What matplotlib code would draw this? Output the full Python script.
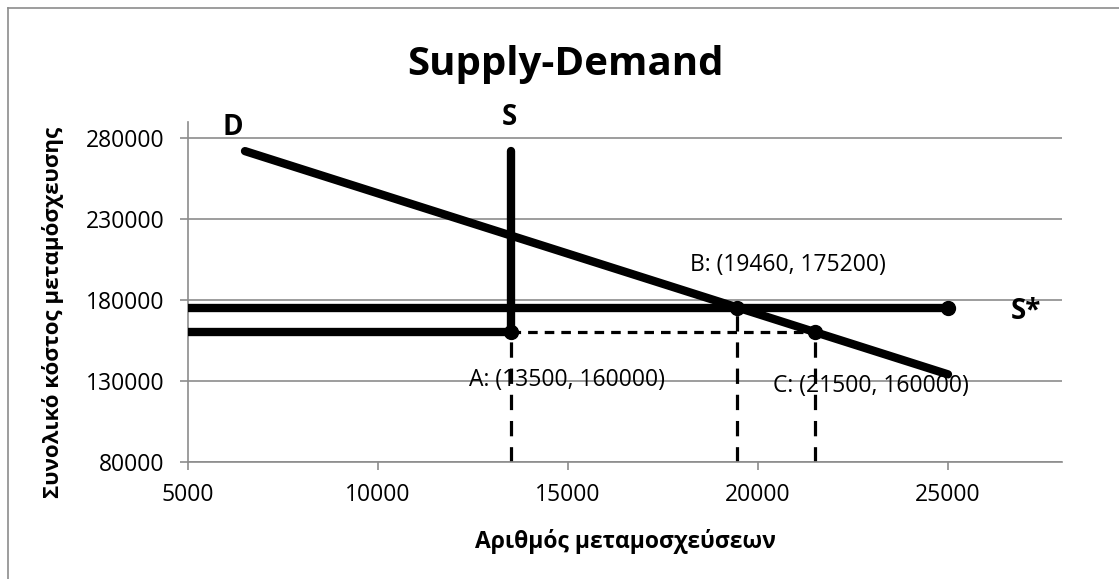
import matplotlib.pyplot as plt
from matplotlib.lines import Line2D

plt.rcParams['font.family'] = ['Open Sans', 'DejaVu Sans']

# data
d_x = [6500, 25000]
d_y = [272000, 134000]
s_x = [5000, 13500, 13500]
s_y = [160000, 160000, 272000]
s_star_x = [5000, 25000]
s_star_y = [175200, 175200]
pt_names = ['A', 'B', 'C']
pt_x = [13500, 19460, 21500]
pt_y = [160000, 175200, 160000]
x_ticks = [5000, 10000, 15000, 20000, 25000]
y_ticks = [80000, 130000, 180000, 230000, 280000]

grey = '#8c8c8c'
fs = 16.5

fig = plt.figure(figsize=(11.19, 5.79), dpi=100)
ax = fig.add_axes([188 / 1119, 1 - 461.7 / 579, (1062 - 188) / 1119, (461.7 - 122) / 579])
ax.set_xlim(5000, 28000)
ax.set_ylim(80000, 290000)

# dashed guide lines (horizontal dashes are shorter than the vertical ones)
ax.plot([pt_x[0], pt_x[2]], [pt_y[0], pt_y[2]], color='black', lw=2.3, dashes=(3.0, 2.2), zorder=2)
for x, y in zip(pt_x, pt_y):
    ax.plot([x, x], [80000, y], color='black', lw=2.3, dashes=(4.8, 3.4), zorder=2)

# curves
line_kw = dict(color='black', lw=6, zorder=3)
ax.plot(d_x, d_y, solid_capstyle='round', **line_kw)
ax.plot(s_x, s_y, solid_capstyle='round', solid_joinstyle='miter', **line_kw)
ax.plot(s_star_x, s_star_y, solid_capstyle='butt', **line_kw)

# points
ax.plot(pt_x + [s_star_x[-1]], pt_y + [s_star_y[-1]], 'o', color='black', ms=10, zorder=4)

offsets = [(40, -34), (36.5, 30.8), (40, -39)]
for name, x, y, off in zip(pt_names, pt_x, pt_y, offsets):
    ax.annotate(f'{name}: ({x}, {y})', (x, y), xytext=off, textcoords='offset points',
                ha='center', va='center', fontsize=fs, zorder=5)

# curve labels
ax.text(6190, 286700, 'D', fontsize=20, fontweight='bold', ha='center', va='center', clip_on=False)
ax.text(13450, 292500, 'S', fontsize=20, fontweight='bold', ha='center', va='center', clip_on=False)
ax.text(27040, 172600, 'S*', fontsize=20, fontweight='bold', ha='center', va='center', clip_on=False)

# axes styling
ax.set_xticks(x_ticks)
ax.set_yticks(y_ticks)
ax.grid(axis='y', color=grey, lw=1.2)
ax.set_axisbelow(True)
for side in ['top', 'right']:
    ax.spines[side].set_visible(False)
for side in ['left', 'bottom']:
    ax.spines[side].set_color(grey)
    ax.spines[side].set_linewidth(1.2)
ax.tick_params(axis='both', direction='out', length=6, width=1.2, color=grey, labelsize=fs)
ax.tick_params(axis='y', pad=11)
ax.tick_params(axis='x', pad=9)

ax.set_xlabel('Αριθμός μεταμοσχεύσεων', fontsize=fs, fontweight='bold', labelpad=16)
ax.set_ylabel('Συνολικό κόστος μεταμόσχευσης', fontsize=16, fontweight='bold')
ax.yaxis.set_label_coords(-0.142, 0.438)

fig.text(565 / 1119, 1 - 75 / 579, 'Supply-Demand', fontsize=29, fontweight='bold',
         ha='center', va='baseline')

# chart border (left and top visible)
fig.add_artist(Line2D([8 / 1119, 8 / 1119], [0, 1 - 8 / 579], color=grey, lw=1.2))
fig.add_artist(Line2D([8 / 1119, 1], [1 - 8 / 579, 1 - 8 / 579], color=grey, lw=1.2))

fig.savefig('out.png', dpi=100)
